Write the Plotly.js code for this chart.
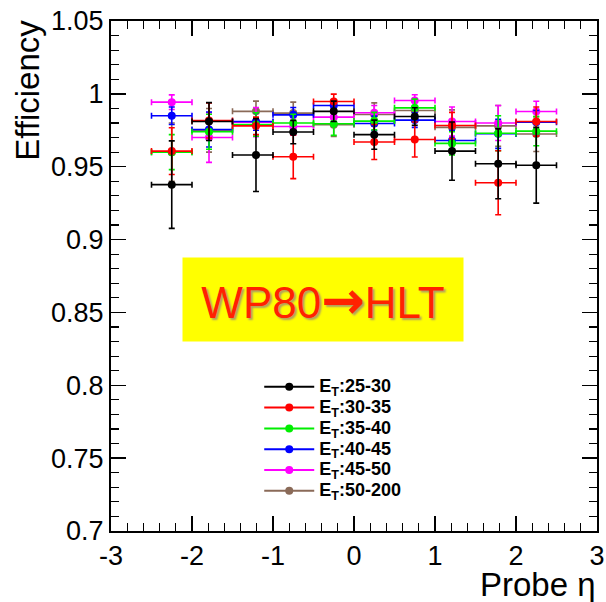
<!DOCTYPE html>
<html>
<head>
<meta charset="utf-8">
<script src="https://cdn.plot.ly/plotly-3.0.1.min.js"></script>
<style>html,body{margin:0;padding:0;background:#fff;}#chart{width:606px;height:602px;}</style>
</head>
<body>
<div id="chart"></div>
<script>
// Probe eta bin centres and edges
const etaCenters = [-2.25, -1.79, -1.21, -0.75, -0.25, 0.25, 0.75, 1.21, 1.78, 2.25];
const binLow  = [-2.5, -2.0, -1.5, -1.0, -0.5, 0.0, 0.5, 1.0, 1.5, 2.0];
const binHigh = [-2.0, -1.5, -1.0, -0.5, 0.0, 0.5, 1.0, 1.5, 2.0, 2.5];

const seriesNames = ["E<sub>T</sub>:25-30", "E<sub>T</sub>:30-35", "E<sub>T</sub>:35-40",
                     "E<sub>T</sub>:40-45", "E<sub>T</sub>:45-50", "E<sub>T</sub>:50-200"];
const seriesColors = ["#000000", "#ff0000", "#00ee00", "#0000ff", "#ff00ff", "#8a6a58"];

const effEt25_30  = [0.9377, 0.9810, 0.9580, 0.9738, 0.9880, 0.9720, 0.9845, 0.9607, 0.9520, 0.9510];
const errEt25_30  = [0.030, 0.013, 0.025, 0.008, 0.007, 0.010, 0.006, 0.020, 0.024, 0.026];
const effEt30_35  = [0.9607, 0.9817, 0.9780, 0.9568, 0.9948, 0.9670, 0.9687, 0.9783, 0.9390, 0.9810];
const errEt30_35  = [0.016, 0.012, 0.006, 0.015, 0.005, 0.012, 0.012, 0.009, 0.022, 0.010];
const effEt35_40  = [0.9600, 0.9740, 0.9790, 0.9800, 0.9795, 0.9813, 0.9904, 0.9660, 0.9730, 0.9744];
const errEt35_40  = [0.012, 0.012, 0.008, 0.006, 0.008, 0.006, 0.006, 0.008, 0.012, 0.010];
const effEt40_45  = [0.9850, 0.9755, 0.9810, 0.9856, 0.9920, 0.9797, 0.9820, 0.9680, 0.9726, 0.9806];
const errEt40_45  = [0.006, 0.012, 0.006, 0.005, 0.004, 0.005, 0.005, 0.007, 0.010, 0.008];
const effEt45_50  = [0.9943, 0.9700, 0.9806, 0.9776, 0.9840, 0.9870, 0.9954, 0.9810, 0.9800, 0.9879];
const errEt45_50  = [0.005, 0.017, 0.010, 0.006, 0.006, 0.005, 0.004, 0.010, 0.012, 0.007];
const effEt50_200 = [0.9600, 0.9750, 0.9880, 0.9868, 0.9788, 0.9858, 0.9886, 0.9770, 0.9780, 0.9724];
const errEt50_200 = [0.020, 0.015, 0.007, 0.0075, 0.008, 0.008, 0.006, 0.012, 0.014, 0.012];

const xTickVals = [-3, -2, -1, 0, 1, 2, 3];
const xTickText = ["-3", "-2", "-1", "0", "1", "2", "3"];

const effs = [effEt25_30, effEt30_35, effEt35_40, effEt40_45, effEt45_50, effEt50_200];
const errs = [errEt25_30, errEt30_35, errEt35_40, errEt40_45, errEt45_50, errEt50_200];

const errPlus = etaCenters.map((c, i) => binHigh[i] - c);
const errMinus = etaCenters.map((c, i) => c - binLow[i]);

const traces = [];
// data traces drawn in reverse order (brown first, black last)
for (let s = effs.length - 1; s >= 0; s--) {
  traces.push({
    type: 'scatter', mode: 'markers',
    x: etaCenters, y: effs[s],
    showlegend: false,
    marker: {color: seriesColors[s], size: 8, symbol: 'circle'},
    error_y: {type: 'data', array: errs[s], visible: true, color: seriesColors[s], thickness: 1.6, width: 3},
    error_x: {type: 'data', symmetric: false, array: errPlus, arrayminus: errMinus, visible: true,
              color: seriesColors[s], thickness: 1.6, width: 3},
    hoverinfo: 'skip'
  });
}
// legend entries
for (let s = 0; s < effs.length; s++) {
  traces.push({
    type: 'scatter', mode: 'lines+markers',
    x: [null], y: [null],
    name: '<span style="font-size:18px">' + seriesNames[s] + '</span>',
    line: {color: seriesColors[s], width: 2},
    marker: {color: seriesColors[s], size: 8},
    showlegend: true
  });
}

const axisCommon = {
  showline: true, linecolor: '#000', linewidth: 2, mirror: 'allticks',
  ticks: 'inside', ticklen: 15, tickwidth: 1.5, tickcolor: '#000',
  showgrid: false, zeroline: false,
  tickfont: {family: 'Liberation Sans, Arial, sans-serif', size: 27, color: '#000'}
};

const layout = {
  width: 606, height: 602,
  margin: {l: 111, r: 9, t: 21, b: 71},
  paper_bgcolor: '#fff', plot_bgcolor: '#fff',
  showlegend: true,
  legend: {
    x: 0.305, y: 0.313, xanchor: 'left', yanchor: 'top',
    bgcolor: 'rgba(0,0,0,0)', borderwidth: 0,
    font: {family: 'Liberation Sans, Arial, sans-serif', size: 13.7, color: '#000', weight: 'bold'},
    itemwidth: 50
  },
  xaxis: Object.assign({}, axisCommon, {
    range: [-3, 3], tickmode: 'array', tickvals: xTickVals, ticktext: xTickText,
    minor: {dtick: 0.2, ticks: 'inside', ticklen: 8, tickcolor: '#000', tickwidth: 1.2, showgrid: false}
  }),
  yaxis: Object.assign({}, axisCommon, {
    range: [0.7, 1.05], dtick: 0.05, tick0: 0.7,
    minor: {dtick: 0.01, ticks: 'inside', ticklen: 8, tickcolor: '#000', tickwidth: 1.2, showgrid: false}
  }),
  annotations: [
    {text: 'Efficiency', xref: 'paper', yref: 'paper', x: -0.171, y: 1.007,
     xanchor: 'center', yanchor: 'top', textangle: -90, showarrow: false,
     font: {family: 'Liberation Sans, Arial, sans-serif', size: 33, color: '#000'}},
    {text: 'Probe η', xref: 'paper', yref: 'paper', x: 1.002, y: -0.105,
     xanchor: 'right', yanchor: 'middle', showarrow: false,
     font: {family: 'Liberation Sans, Arial, sans-serif', size: 33, color: '#000'}},
    {text: 'WP80<span style="font-family:DejaVu Sans;font-weight:bold;font-size:52px">→</span>HLT',
     xref: 'x', yref: 'y', x: -0.383, y: 0.8586,
     xanchor: 'center', yanchor: 'middle', showarrow: false,
     width: 278, height: 81, bgcolor: '#ffff00',
     font: {family: 'Liberation Sans, Arial, sans-serif', size: 44, color: '#ff2200',
            shadow: '2px 2px 2px #b0a060'}}
  ]
};

Plotly.newPlot('chart', traces, layout, {staticPlot: true});
</script>
</body>
</html>
